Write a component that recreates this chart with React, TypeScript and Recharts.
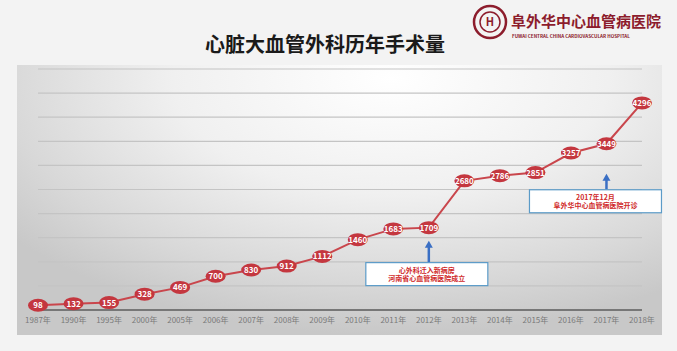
import React from 'react';
import { LineChart, Line, XAxis, YAxis, CartesianGrid, ReferenceDot } from 'recharts';

const years = ['1987年', '1990年', '1995年', '2000年', '2005年', '2006年', '2007年', '2008年', '2009年', '2010年', '2011年', '2012年', '2013年', '2014年', '2015年', '2016年', '2017年', '2018年'];
const surgeries = [98, 132, 155, 328, 469, 700, 830, 912, 1112, 1460, 1683, 1709, 2680, 2786, 2851, 3257, 3449, 4296];
const yTicks = [0, 500, 1000, 1500, 2000, 2500, 3000, 3500, 4000, 4500, 5000];

const notes = [
  { year: '2012年', value: 1709, lines: ['心外科迁入新病房', '河南省心血管病医院成立'], gap: 13, arrow: 22, w: 122, dx: -2 },
  { year: '2017年', value: 3449, lines: ['2017年12月', '阜外华中心血管病医院开诊'], gap: 30, arrow: 16, w: 132, dx: -11 },
];

const data = years.map((y, i) => ({ year: y, value: surgeries[i] }));

const LabelDot = (props: any) => {
  const { cx, cy, payload } = props;
  if (cx == null || cy == null) return null;
  return (
    <g>
      <ellipse cx={cx} cy={cy} rx={10} ry={6.5} fill="#c4373f" />
      <text x={cx} y={cy + 3} textAnchor="middle" fontSize={8} fontWeight="bold" fill="#fff">
        {payload.value}
      </text>
    </g>
  );
};

const noteShape = (n: typeof notes[number]) => (props: any) => {
  const { cx, cy } = props;
  const top = cy + n.gap;
  const boxTop = top + n.arrow;
  const left = cx + n.dx - n.w / 2;
  return (
    <g>
      <line x1={cx} y1={top + 5} x2={cx} y2={boxTop} stroke="#3a6fc4" strokeWidth={2.5} />
      <polygon points={`${cx - 4},${top + 7} ${cx + 4},${top + 7} ${cx},${top}`} fill="#3a6fc4" />
      <rect x={left} y={boxTop} width={n.w} height={23} fill="#fff" stroke="#5b9bc8" strokeWidth={1.2} />
      {n.lines.map((t, i) => (
        <text key={i} x={left + n.w / 2} y={boxTop + 10 + i * 8.5} textAnchor="middle" fontSize={7} fontWeight="bold" fill="#d02a2a">
          {t}
        </text>
      ))}
    </g>
  );
};

export default function App() {
  return (
    <div style={{ position: 'absolute', left: 0, top: 0, width: 677, height: 351, background: '#f3f3f3', overflow: 'hidden', fontFamily: '"Noto Sans CJK SC", sans-serif' }}>
      <div style={{ position: 'absolute', left: 17, top: 65, width: 645, height: 270, background: 'radial-gradient(ellipse 75% 95% at 58% 5%, #ffffff 0%, #f0f0f0 45%, #d8d8d8 80%, #c8c8c8 100%)' }} />
      <div style={{ position: 'absolute', left: 0, top: 29, width: 650, textAlign: 'center', fontSize: 20, fontWeight: 'bold', color: '#1a1a1a' }}>
        心脏大血管外科历年手术量
      </div>
      <svg style={{ position: 'absolute', left: 470, top: 3 }} width={200} height={40}>
        <circle cx={20} cy={19} r={16} fill="none" stroke="#8c1c2c" strokeWidth={2.5} />
        <circle cx={20} cy={19} r={10} fill="none" stroke="#8c1c2c" strokeWidth={1.5} />
        <text x={20} y={23} textAnchor="middle" fontSize={11} fontWeight="bold" fill="#8c1c2c">H</text>
        <text x={41} y={24} fontSize={15} fontWeight="bold" fill="#8c1c2c">阜外华中心血管病医院</text>
        <text x={42} y={35} fontSize={4.6} fontWeight="bold" fill="#8c1c2c">FUWAI CENTRAL CHINA CARDIOVASCULAR HOSPITAL</text>
      </svg>
      <div style={{ position: 'absolute', left: 0, top: 0 }}>
        <LineChart width={677} height={351} data={data} margin={{ top: 69, right: 35, bottom: 16, left: 38 }}>
          <CartesianGrid vertical={false} stroke="#c4c4c4" strokeWidth={1.2} />
          <XAxis
            dataKey="year"
            height={25}
            axisLine={{ stroke: '#777', strokeWidth: 2 }}
            tickLine={false}
            tick={{ fontSize: 8, fill: '#7a7a7a' }}
            interval={0}
            tickMargin={1}
          />
          <YAxis hide domain={[0, 5000]} ticks={yTicks} />
          <Line
            type="linear"
            dataKey="value"
            stroke="#c9464c"
            strokeWidth={2}
            dot={<LabelDot />}
            activeDot={false}
            isAnimationActive={false}
          />
          {notes.map((n) => (
            <ReferenceDot key={n.year} x={n.year} y={n.value} shape={noteShape(n)} />
          ))}
        </LineChart>
      </div>
    </div>
  );
}
